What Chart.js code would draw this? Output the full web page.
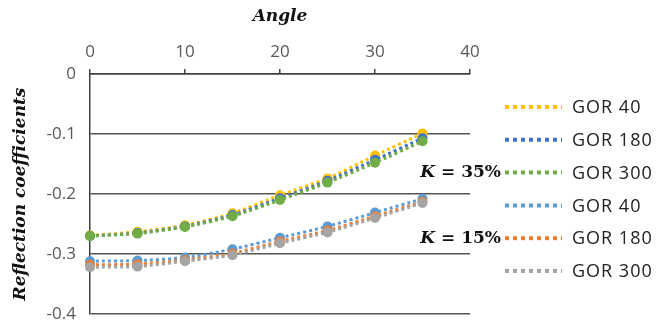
<!DOCTYPE html>
<html>
<head>
<meta charset="utf-8">
<script src="https://cdn.jsdelivr.net/npm/chart.js@4"></script>
<style>
  html, body { margin: 0; padding: 0; background: #fff; }
  #wrap { width: 669px; height: 323px; }
</style>
</head>
<body>
<div id="wrap"><canvas id="chart" width="669" height="323"></canvas></div>
<script>
// data
const angles = [0, 5, 10, 15, 20, 25, 30, 35];
const gor40K35 = [-0.269, -0.263, -0.252, -0.232, -0.202, -0.174, -0.136, -0.099];
const gor180K35 = [-0.270, -0.265, -0.254, -0.235, -0.207, -0.178, -0.143, -0.107];
const gor300K35 = [-0.270, -0.266, -0.255, -0.237, -0.210, -0.181, -0.148, -0.112];
const gor40K15 = [-0.312, -0.311, -0.306, -0.292, -0.273, -0.254, -0.231, -0.208];
const gor180K15 = [-0.318, -0.317, -0.310, -0.299, -0.279, -0.261, -0.237, -0.213];
const gor300K15 = [-0.322, -0.321, -0.312, -0.302, -0.282, -0.264, -0.240, -0.215];
const seriesNames = ['GOR 40', 'GOR 180', 'GOR 300', 'GOR 40', 'GOR 180', 'GOR 300'];
const groupLabels = ['35%', '15%'];

const colors = ['#FFC000', '#4472C4', '#70AD47', '#5B9BD5', '#ED7D31', '#A5A5A5'];
const allValues = [gor40K35, gor180K35, gor300K35, gor40K15, gor180K15, gor300K15];

const datasets = allValues.map((vals, i) => ({
    label: seriesNames[i],
    data: vals.map((v, j) => ({ x: angles[j], y: v })),
    borderColor: colors[i],
    backgroundColor: colors[i],
    borderWidth: 3,
    borderDash: [3, 3],
    pointRadius: 5,
    pointBorderWidth: 0,
    pointBackgroundColor: colors[i],
    tension: 0.2,
    clip: false,
    order: 10 - i   // later series drawn on top, like the original
}));

// legend drawn by hand on the right, plus the K labels
const sideLegend = {
    id: 'sideLegend',
    afterDraw(chart) {
        const ctx = chart.ctx;
        const rowTop = 107, rowStep = 32.8;
        ctx.save();
        chart.data.datasets.forEach((ds, i) => {
            const y = rowTop + i * rowStep;
            ctx.strokeStyle = ds.borderColor;
            ctx.lineWidth = 4;
            ctx.setLineDash([4, 4]);
            ctx.beginPath();
            ctx.moveTo(505, y);
            ctx.lineTo(562, y);
            ctx.stroke();
            ctx.setLineDash([]);
            ctx.fillStyle = '#222';
            ctx.font = '18px "Open Sans"';
            ctx.letterSpacing = '1px';
            ctx.textAlign = 'left';
            ctx.textBaseline = 'middle';
            ctx.fillText(ds.label, 572, y + 1);
            ctx.letterSpacing = '0px';
        });
        // K = ..% next to GOR 300 (K35) and GOR 180 (K15)
        [2, 4].forEach((row, g) => {
            const y = rowTop + row * rowStep;
            ctx.textBaseline = 'middle';
            ctx.fillStyle = '#111';
            ctx.font = 'bold 17px "DejaVu Serif"';
            const rest = ' = ' + groupLabels[g];
            const wRest = ctx.measureText(rest).width;
            ctx.textAlign = 'right';
            ctx.fillText(rest, 501, y);
            ctx.font = 'italic bold 17px "DejaVu Serif"';
            ctx.fillText('K', 501 - wRest, y);
        });
        ctx.restore();
    }
};

new Chart(document.getElementById('chart'), {
    type: 'line',
    data: { datasets: datasets },
    options: {
        responsive: false,
        animation: false,
        layout: { padding: { left: 0, top: 0, right: 199, bottom: 9 } },
        plugins: {
            legend: { display: false },
            tooltip: { enabled: false }
        },
        scales: {
            x: {
                type: 'linear',
                position: 'top',
                min: 0,
                max: 40,
                afterFit: s => { s.height = 74; s.paddingLeft = 0; s.paddingRight = 0; },
                ticks: { stepSize: 10, color: '#595959', font: { family: 'Open Sans', size: 17 }, padding: 7 },
                grid: { drawOnChartArea: false, drawTicks: true, tickLength: 5, color: '#404040', lineWidth: 1.5 },
                border: { display: true, color: '#404040', width: 1.5 },
                title: {
                    display: true,
                    text: 'Angle',
                    color: '#111',
                    font: { family: 'DejaVu Serif', size: 17, style: 'italic', weight: 'bold' },
                    padding: { top: 6, bottom: 0 }
                }
            },
            y: {
                min: -0.4,
                max: 0,
                afterFit: s => { s.width = 90; s.paddingTop = 0; s.paddingBottom = 0; },
                ticks: { stepSize: 0.1, color: '#595959', font: { family: 'Open Sans', size: 17 }, padding: 14 },
                grid: { drawOnChartArea: true, drawTicks: false, color: '#555', lineWidth: 1.4 },
                border: { display: true, color: '#404040', width: 1.5 },
                title: {
                    display: true,
                    text: 'Reflection coefficients',
                    color: '#111',
                    font: { family: 'DejaVu Serif', size: 17, style: 'italic', weight: 'bold' },
                    padding: { top: 10, bottom: 0 }
                }
            }
        }
    },
    plugins: [sideLegend]
});
</script>
</body>
</html>
